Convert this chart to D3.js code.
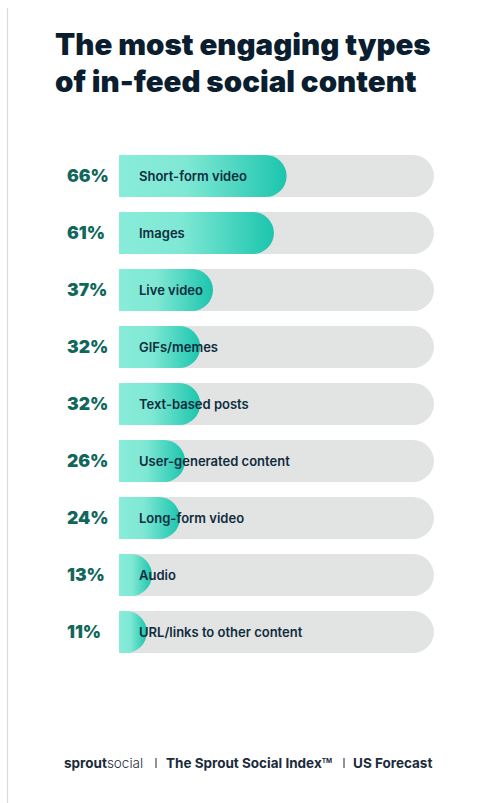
<!DOCTYPE html>
<html>
<head>
<meta charset="utf-8">
<script src="https://cdn.jsdelivr.net/npm/d3@7"></script>
<style>
  html, body { margin: 0; padding: 0; background: #ffffff; }
  svg { display: block; }
</style>
</head>
<body>
<svg id="chart" width="482" height="803"></svg>
<script>
const categories = [
  "Short-form video", "Images", "Live video", "GIFs/memes", "Text-based posts",
  "User-generated content", "Long-form video", "Audio", "URL/links to other content"
];
const values = [66, 61, 37, 32, 32, 26, 24, 13, 11];
const titleLines = ["The most engaging types", "of in-feed social content"];
const footerParts = ["The Sprout Social Index", "US Forecast"];

const svg = d3.select("#chart");
const W = 482, H = 803;

// left thin border line
svg.append("line").attr("x1", 7.5).attr("x2", 7.5).attr("y1", 8).attr("y2", H)
  .attr("stroke", "#dadada").attr("stroke-width", 1.2);

// title
const title = svg.append("text")
  .attr("font-family", "Inter, 'Open Sans', sans-serif")
  .attr("font-weight", 900)
  .attr("font-size", 29.5)
  .attr("fill", "#0b1e30");
titleLines.forEach((t, i) => {
  title.append("tspan").attr("x", 55).attr("y", 55 + i * 37).text(t);
});

// scales
const step = 57, gap = 15;
const y = d3.scaleBand().domain(categories)
  .range([155 - gap / 2, 155 - gap / 2 + step * categories.length])
  .paddingInner(gap / step).paddingOuter(gap / step / 2);
const x = d3.scaleLinear().domain([0, 100]).range([119, 373]);
const trackMax = 124;

const defs = svg.append("defs");
const grad = defs.append("linearGradient").attr("id", "barGrad")
  .attr("x1", "0%").attr("x2", "100%").attr("y1", "0%").attr("y2", "0%");
grad.append("stop").attr("offset", "0%").attr("stop-color", "#88ecd9");
grad.append("stop").attr("offset", "40%").attr("stop-color", "#7fe8d4");
grad.append("stop").attr("offset", "100%").attr("stop-color", "#1cc5ae");

function roundRight(x0, x1, y0, h) {
  const r = h / 2;
  const xr = Math.max(x0, x1 - r);
  return `M${x0},${y0} H${xr} A${r},${r} 0 0 1 ${xr},${y0 + h} H${x0} Z`;
}

const rows = svg.append("g").selectAll("g").data(categories.map((c, i) => ({ c, v: values[i] })))
  .join("g");

rows.append("path")
  .attr("d", d => roundRight(x(0), x(trackMax), y(d.c), y.bandwidth()))
  .attr("fill", "#e2e3e3");

rows.append("path")
  .attr("d", d => roundRight(x(0), x(d.v), y(d.c), y.bandwidth()))
  .attr("fill", "url(#barGrad)");

rows.append("text")
  .attr("x", 139)
  .attr("y", d => y(d.c) + y.bandwidth() / 2)
  .attr("dy", "0.36em")
  .attr("font-family", "Inter, 'Open Sans', sans-serif")
  .attr("font-weight", 600)
  .attr("font-size", 13)
  .attr("fill", "#0f2d3d")
  .text(d => d.c);

rows.append("text")
  .attr("x", 67)
  .attr("y", d => y(d.c) + y.bandwidth() / 2)
  .attr("dy", "0.36em")
  .attr("font-family", "Inter, 'Open Sans', sans-serif")
  .attr("font-weight", 900)
  .attr("font-size", 17.5)
  .attr("fill", "#12675b")
  .text(d => d.v + "%");

// footer
const fy = 768;
const foot = svg.append("text").attr("y", fy).attr("x", 64)
  .attr("font-family", "Inter, 'Open Sans', sans-serif")
  .attr("font-size", 13.5).attr("fill", "#1b2b3c");
foot.append("tspan").attr("font-weight", 700).text("sprout");
foot.append("tspan").attr("font-weight", 300).text("social");
foot.append("tspan").attr("x", 166).attr("font-weight", 700).text(footerParts[0]);
foot.append("tspan").attr("font-weight", 700).attr("font-size", 6.5).attr("dy", -5.5).text("TM");
foot.append("tspan").attr("x", 353).attr("dy", 5.5).attr("font-weight", 700).text(footerParts[1]);

// separators
[156, 344].forEach(sx => {
  svg.append("line").attr("x1", sx).attr("x2", sx).attr("y1", fy - 10).attr("y2", fy)
    .attr("stroke", "#1b2b3c").attr("stroke-width", 1);
});
</script>
</body>
</html>
